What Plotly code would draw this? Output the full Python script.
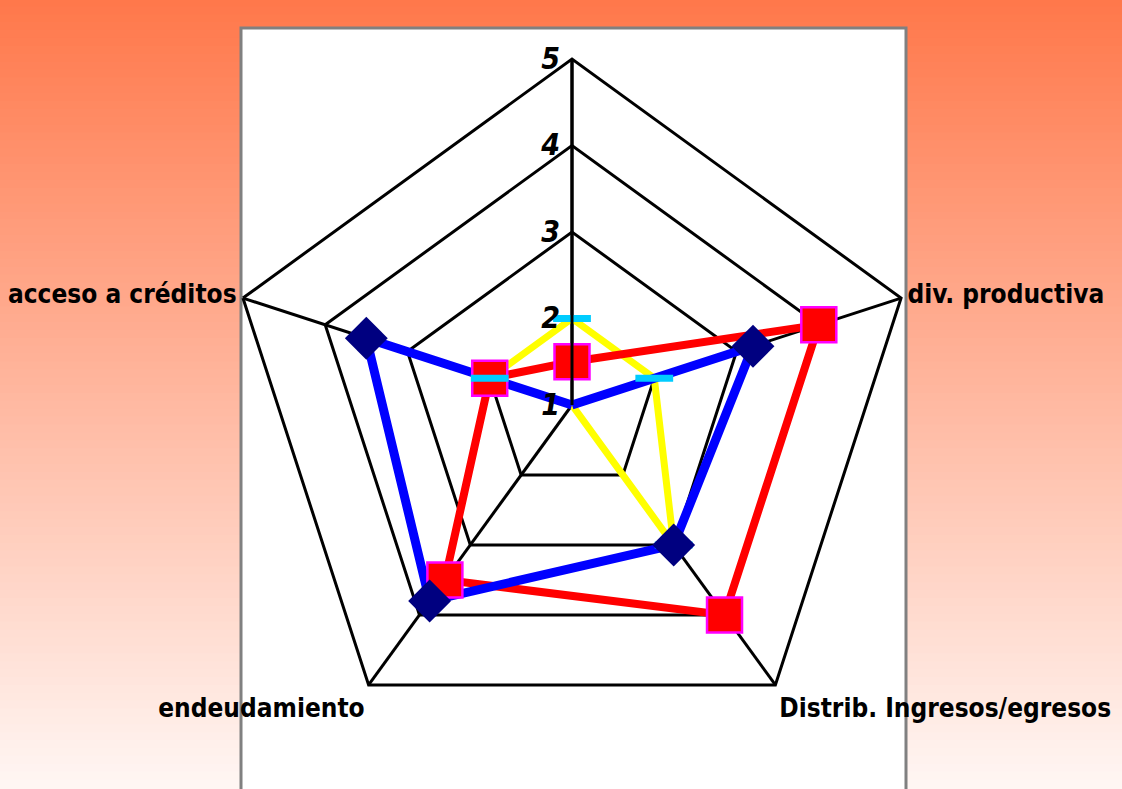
import plotly.graph_objects as go

# ---- data ----
categories = [" ", "div. productiva", "Distrib. Ingresos/egresos", "endeudamiento", "acceso a créditos"]
serie_azul = [1, 3.2, 3, 3.8, 3.5]
serie_roja = [1.5, 4, 4, 3.5, 2]
serie_amarilla = [2, 2, 3, 1, 2]
radial_ticks = [1, 2, 3, 4, 5]

FONT = "DejaVu Sans Condensed, Liberation Sans, Arial, sans-serif"

W, H = 1122, 789
cx, cy, R = 572, 405, 346


def closed(v):
    return list(v) + [v[0]]


theta = closed(categories)

fig = go.Figure()

# lines first (yellow, red, blue), then markers (red, yellow, blue)
fig.add_trace(go.Scatterpolar(r=closed(serie_amarilla), theta=theta, mode="lines",
                              line=dict(color="#FFFF00", width=7), showlegend=False, hoverinfo="skip"))
fig.add_trace(go.Scatterpolar(r=closed(serie_roja), theta=theta, mode="lines",
                              line=dict(color="#FF0000", width=8), showlegend=False, hoverinfo="skip"))
fig.add_trace(go.Scatterpolar(r=closed(serie_azul), theta=theta, mode="lines",
                              line=dict(color="#0000FF", width=9), showlegend=False, hoverinfo="skip"))

fig.add_trace(go.Scatterpolar(r=serie_roja, theta=categories, mode="markers", name="Serie 2",
                              marker=dict(symbol="square", size=35, color="#FF0000",
                                          line=dict(color="#FF00FF", width=2.5)),
                              showlegend=False))
fig.add_trace(go.Scatterpolar(r=serie_amarilla, theta=categories, mode="markers", name="Serie 3",
                              marker=dict(symbol="line-ew", size=27, color="#00CCFF",
                                          line=dict(color="#00CCFF", width=7)),
                              showlegend=False))
fig.add_trace(go.Scatterpolar(r=serie_azul, theta=categories, mode="markers", name="Serie 1",
                              marker=dict(symbol="diamond", size=33, color="#000080",
                                          line=dict(color="#000080", width=0)),
                              showlegend=False))

# ---- background gradient (bands) ----
shapes = []
top = (255, 120, 75)
bot = (255, 246, 243)
N = 100
for i in range(N):
    t = i / (N - 1)
    c = tuple(round(top[k] + (bot[k] - top[k]) * t) for k in range(3))
    shapes.append(dict(type="rect", xref="paper", yref="paper",
                       x0=0, x1=1, y0=1 - (i + 1) / N, y1=1 - i / N + 0.002,
                       fillcolor="rgb(%d,%d,%d)" % c, line=dict(width=0), layer="below"))
# white plot area with grey border
shapes.append(dict(type="rect", xref="paper", yref="paper",
                   x0=241 / W, x1=906 / W, y0=-0.05, y1=1 - 28 / H,
                   fillcolor="white", line=dict(color="#808080", width=3), layer="below"))

fig.update_layout(
    width=W, height=H,
    margin=dict(l=0, r=0, t=0, b=0),
    paper_bgcolor="rgb(255,190,170)",
    showlegend=False,
    shapes=shapes,
    font=dict(family=FONT, color="black"),
    polar=dict(
        domain=dict(x=[(cx - R) / W, (cx + R) / W],
                    y=[(H - cy - R) / H, (H - cy + R) / H]),
        bgcolor="rgba(255,255,255,0)",
        gridshape="linear",
        radialaxis=dict(range=[1, 5], angle=90, tickangle=90, tickvals=radial_ticks,
                        side="counterclockwise", showline=True, linecolor="black", linewidth=3,
                        gridcolor="black", gridwidth=3, ticks="",
                        tickfont=dict(family=FONT, size=30, color="black",
                                      weight="bold", style="italic")),
        angularaxis=dict(rotation=90, direction="clockwise", linecolor="black", linewidth=3,
                         gridcolor="black", gridwidth=3, ticks="",
                         tickfont=dict(family=FONT, size=26, color="black", weight="bold")),
    ),
)

fig.write_html("out.html", config={"displayModeBar": False},
               post_script="document.body.style.margin='0';document.body.style.overflow='hidden';")
